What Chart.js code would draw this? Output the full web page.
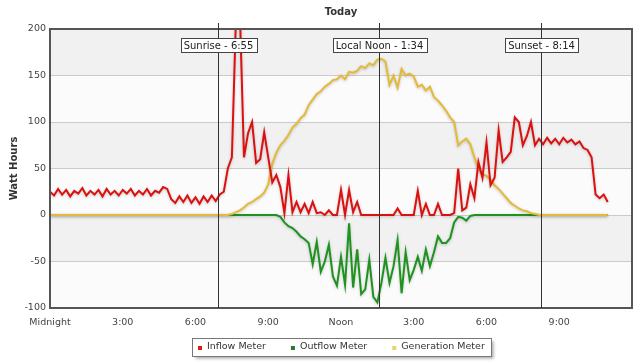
<!DOCTYPE html>
<html>
<head>
<meta charset="UTF-8">
<script src="https://cdn.jsdelivr.net/npm/chart.js@4.4.0/dist/chart.umd.min.js"></script>
<title>Today</title>
<style>
	html, body { margin: 0; padding: 0; background: #fff; }
	.content { width: 640px; height: 363px; }
</style>
</head>
<body>
	<div class="content">
		<canvas id="lineChart"></canvas>
	</div>
	<script>
		// one reading every 10 minutes, starting at midnight
		var stepMinutes = 10;

		var inflow = [
			25, 21, 28, 22, 27, 20, 26, 23, 29, 21,
			26, 22, 27, 20, 28, 22, 26, 21, 27, 23,
			28, 21, 26, 22, 28, 21, 26, 24, 30, 28,
			17, 13, 20, 14, 21, 13, 19, 12, 20, 14,
			21, 15, 22, 25, 50, 62, 210, 215, 62, 88,
			100, 56, 60, 89, 62, 35, 43, 30, 2, 43,
			3, 14, 3, 12, 2, 14, 2, 3, 0, 5,
			0, 0, 27, 0, 27, 3, 14, 0, 0, 0,
			0, 0, 0, 0, 0, 0, 7, 0, 0, 0,
			0, 26, 0, 12, 0, 0, 12, 0, 0, 0,
			2, 50, 5, 8, 33, 18, 57, 40, 78, 32,
			40, 91, 57, 62, 68, 105, 100, 75, 85, 100,
			75, 82, 76, 83, 77, 82, 76, 83, 78, 81,
			76, 79, 72, 70, 62, 22, 18, 22, 14
		];

		var outflow = [
			0, 0, 0, 0, 0, 0, 0, 0, 0, 0,
			0, 0, 0, 0, 0, 0, 0, 0, 0, 0,
			0, 0, 0, 0, 0, 0, 0, 0, 0, 0,
			0, 0, 0, 0, 0, 0, 0, 0, 0, 0,
			0, 0, 0, 0, 0, 0, 0, 0, 0, 0,
			0, 0, 0, 0, 0, 0, 0, -2, -8, -12,
			-14, -18, -23, -26, -30, -53, -29, -61, -50, -32,
			-66, -76, -45, -75, -9, -78, -37, -85, -80, -48,
			-88, -94, -73, -46, -73, -55, -27, -84, -40, -70,
			-59, -45, -60, -37, -55, -40, -23, -30, -30, -25,
			-8, -2, -3, -6, -1, 0, 0, 0, 0, 0,
			0, 0, 0, 0, 0, 0, 0, 0, 0, 0,
			0, 0, 0, 0, 0, 0, 0, 0, 0, 0,
			0, 0, 0, 0, 0, 0, 0, 0, 0
		];

		var generation = [
			0, 0, 0, 0, 0, 0, 0, 0, 0, 0,
			0, 0, 0, 0, 0, 0, 0, 0, 0, 0,
			0, 0, 0, 0, 0, 0, 0, 0, 0, 0,
			0, 0, 0, 0, 0, 0, 0, 0, 0, 0,
			0, 0, 0, 0, 0, 1, 3, 5, 8, 12,
			14, 17, 20, 24, 33, 55, 67, 75, 80, 86,
			94, 98, 104, 108, 118, 124, 130, 133, 138, 141,
			145, 146, 150, 146, 154, 153, 155, 160, 158, 163,
			161, 167, 168, 165, 140, 150, 137, 157, 150, 152,
			149, 138, 140, 134, 138, 127, 123, 118, 112, 105,
			100, 75, 79, 82, 76, 62, 50, 44, 42, 38,
			32, 28, 23, 18, 13, 10, 7, 5, 4, 2,
			1, 0, 0, 0, 0, 0, 0, 0, 0, 0,
			0, 0, 0, 0, 0, 0, 0, 0, 0
		];

		var tickLabels = ['Midnight', '3:00', '6:00', '9:00', 'Noon', '3:00', '6:00', '9:00'];

		var eventNames = ['Sunrise - 6:55', 'Local Noon - 1:34', 'Sunset - 8:14'];
		var eventMinutes = [415, 814, 1214];

		var times = inflow.map(function(v, i) { return i * stepMinutes; });

		var fontFamily = '"DejaVu Sans", Verdana, sans-serif';

		// bands, border, sun lines and the legend
		var decor = {
			id: 'decor',
			beforeDraw: function(chart) {
				var ctx = chart.ctx, a = chart.chartArea, y = chart.scales.y;
				ctx.save();
				var k = 0;
				for (var v = y.max; v > y.min; v -= 50) {
					var top = y.getPixelForValue(v), bot = y.getPixelForValue(v - 50);
					ctx.fillStyle = (k % 2 === 0) ? '#f1f1f1' : '#fbfbfb';
					ctx.fillRect(a.left, top, a.right - a.left, bot - top);
					k++;
				}
				ctx.restore();
			},
			beforeDatasetDraw: function(chart) {
				var ctx = chart.ctx;
				ctx.save();
				ctx.shadowColor = 'rgba(0,0,0,0.22)';
				ctx.shadowBlur = 3;
				ctx.shadowOffsetY = 1;
			},
			afterDatasetDraw: function(chart) {
				chart.ctx.restore();
			},
			afterDatasetsDraw: function(chart) {
				var ctx = chart.ctx, a = chart.chartArea, x = chart.scales.x;
				ctx.save();
				ctx.strokeStyle = '#555';
				ctx.lineWidth = 2;
				ctx.strokeRect(a.left, a.top, a.right - a.left, a.bottom - a.top);

				ctx.font = '10px ' + fontFamily;
				ctx.textAlign = 'center';
				ctx.textBaseline = 'middle';
				for (var i = 0; i < eventMinutes.length; i++) {
					var px = Math.round(x.getPixelForValue(eventMinutes[i])) + 0.5;
					ctx.strokeStyle = '#333';
					ctx.lineWidth = 1;
					ctx.beginPath();
					ctx.moveTo(px, a.top - 6);
					ctx.lineTo(px, a.bottom);
					ctx.stroke();

					var tw = ctx.measureText(eventNames[i]).width;
					var bw = Math.round(tw + 6), bh = 14;
					var bx = Math.round(px - bw / 2) + 0.5, by = Math.round(a.top + 9) + 0.5;
					ctx.fillStyle = '#fff';
					ctx.fillRect(bx, by, bw, bh);
					ctx.strokeStyle = '#444';
					ctx.strokeRect(bx, by, bw, bh);
					ctx.fillStyle = '#222';
					ctx.fillText(eventNames[i], px, by + bh / 2 + 0.5);
				}
				ctx.restore();
			},
			afterDraw: function(chart) {
				// legend with a small square marker per series
				var ctx = chart.ctx, a = chart.chartArea, sets = chart.data.datasets;
				var gap = 25, mark = 4, textGap = 5, cy = 347;
				ctx.save();
				ctx.font = '9.5px ' + fontFamily;
				var widths = sets.map(function(d) { return mark + textGap + ctx.measureText(d.label).width; });
				var total = widths.reduce(function(s, w) { return s + w; }, 0) + gap * (sets.length - 1);
				var x0 = Math.round((a.left + a.right) / 2 - total / 2);
				var lx = x0 - 6 + 0.5, ly = cy - 9 + 0.5, lw = Math.round(total + 12), lh = 18;
				ctx.shadowColor = 'rgba(0,0,0,0.35)';
				ctx.shadowBlur = 3;
				ctx.shadowOffsetX = 2;
				ctx.shadowOffsetY = 2;
				ctx.fillStyle = '#fff';
				ctx.fillRect(lx, ly, lw, lh);
				ctx.shadowColor = 'transparent';
				ctx.strokeStyle = '#777';
				ctx.lineWidth = 1;
				ctx.strokeRect(lx, ly, lw, lh);
				ctx.textBaseline = 'middle';
				ctx.textAlign = 'left';
				var cx = x0;
				sets.forEach(function(d, i) {
					ctx.fillStyle = d.backgroundColor;
					ctx.fillRect(cx, cy - 1, mark, mark);
					ctx.fillStyle = '#333';
					ctx.fillText(d.label, cx + mark + textGap, cy);
					cx += widths[i] + gap;
				});
				ctx.restore();
			}
		};

		function drawChart() {
			var ctxL = document.getElementById('lineChart').getContext('2d');
			new Chart(ctxL, {
				type: 'line',
				data: {
					labels: times,
					datasets: [{
						label: 'Inflow Meter',
						data: inflow,
						borderColor: '#dd1010',
						backgroundColor: '#d42020',
						borderWidth: 2,
						pointRadius: 0,
						order: 1
					}, {
						label: 'Outflow Meter',
						data: outflow,
						borderColor: '#1f931f',
						backgroundColor: '#2a7a2a',
						borderWidth: 2,
						pointRadius: 0,
						order: 3
					}, {
						label: 'Generation Meter',
						data: generation,
						borderColor: '#e4ba38',
						backgroundColor: '#e8d46a',
						borderWidth: 2,
						pointRadius: 0,
						order: 2
					}]
				},
				options: {
					responsive: true,
					maintainAspectRatio: false,
					animation: false,
					elements: { line: { tension: 0 } },
					layout: { padding: { left: 0, right: 8, top: 0, bottom: 29 } },
					plugins: {
						title: {
							display: true,
							text: 'Today',
							fullSize: false,
							color: '#333',
							font: { family: fontFamily, size: 10, weight: 'bold' },
							padding: { top: 6, bottom: 11 }
						},
						legend: { display: false },
						tooltip: { enabled: false }
					},
					scales: {
						x: {
							type: 'linear',
							min: 0,
							max: 1440,
							grid: { display: false, drawTicks: false },
							border: { display: false },
							afterBuildTicks: function(scale) {
								scale.ticks = tickLabels.map(function(t, i) { return { value: i * 180 }; });
							},
							ticks: {
								padding: 9,
								maxRotation: 0,
								autoSkip: false,
								color: '#444',
								font: { family: fontFamily, size: 9.5 },
								callback: function(value) { return tickLabels[value / 180]; }
							},
							afterFit: function(scale) { scale.height = 26; }
						},
						y: {
							min: -100,
							max: 200,
							grid: { color: '#cacaca', drawTicks: false },
							border: { display: false },
							ticks: {
								stepSize: 50,
								padding: 4,
								color: '#444',
								font: { family: fontFamily, size: 9.5 }
							},
							title: {
								display: true,
								text: 'Watt Hours',
								color: '#333',
								font: { family: fontFamily, size: 10, weight: 'bold' },
								padding: { top: 8, bottom: 0 }
							},
							afterFit: function(scale) { scale.width = 50; }
						}
					}
				},
				plugins: [decor]
			});
		}

		drawChart();
	</script>
</body>
</html>
